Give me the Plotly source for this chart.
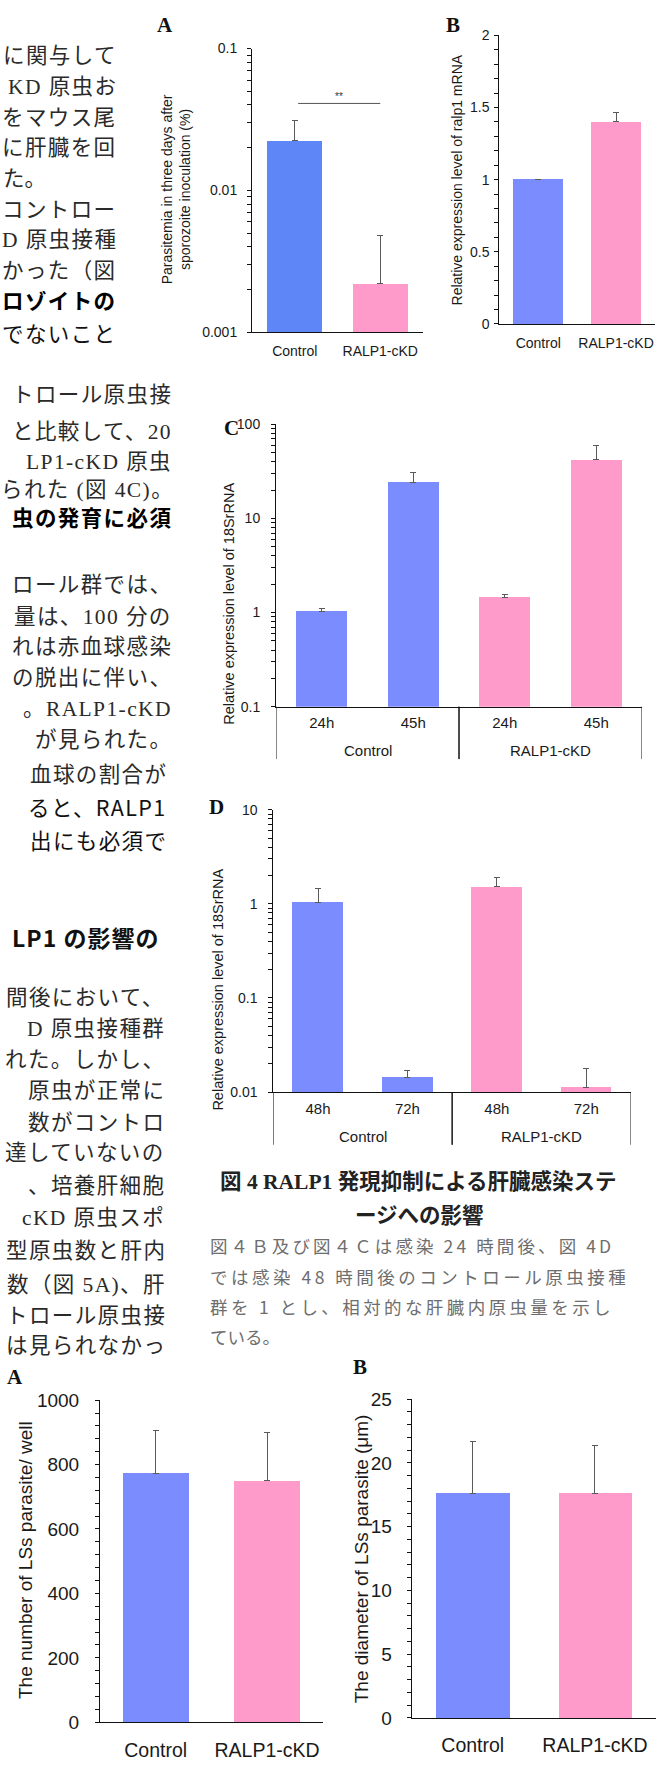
import plotly.graph_objects as go

W, H = 657, 1782


def fx(px):
    return px / W


def fy(py):
    return 1 - py / H


# ---------------- data ----------------
groups = ["Control", "RALP1-cKD"]

# Fig.4A parasitemia 3 days after sporozoite inoculation (%)
a_values = [0.0226, 0.00221]
a_err = [0.0085, 0.0026]
a_sig_level = 0.041
a_sig_text = "**"

# Fig.4B relative ralp1 mRNA
b_values = [1.0, 1.40]
b_err = [0.003, 0.068]

# Fig.4C relative 18S rRNA (24h / 45h)
c_strain = ["Control", "Control", "RALP1-cKD", "RALP1-cKD"]
c_time = ["24h", "45h", "24h", "45h"]
c_values = [1.02, 24.4, 1.46, 41.9]
c_err = [0.09, 6.4, 0.10, 17.7]

# Fig.4D relative 18S rRNA (48h / 72h)
d_strain = ["Control", "Control", "RALP1-cKD", "RALP1-cKD"]
d_time = ["48h", "72h", "48h", "72h"]
d_values = [1.045, 0.0144, 1.52, 0.0113]
d_err = [0.415, 0.0027, 0.39, 0.0064]

# Fig.5A number of LS parasites per well
e_values = [773, 750]
e_err = [133, 150]

# Fig.5B LS parasite diameter (um)
f_values = [17.6, 17.6]
f_err = [4.1, 3.75]

BLUE = "#7b8cff"
BLUE_A = "#5f86f6"
PINK = "#ff9bcb"
ERR = "#5a5a5a"
AX = "#111111"
TXT = "#1a1a1a"

SANS = "Liberation Sans, Arial, sans-serif"
SERIF_JP = "Liberation Serif, Noto Sans CJK JP, serif"
GOTHIC = "Noto Sans CJK JP, sans-serif"


def log_ticks(lo, hi):
    vals, text = [], []
    for e in range(lo, hi + 1):
        base = 10.0 ** e
        vals.append(base)
        text.append(f"{base:g}")
        if e < hi:
            for m in range(2, 10):
                vals.append(m * base)
                text.append("")
    return vals, text


def lin_ticks(top, minor, major):
    n = int(round(top / minor))
    vals = [round(i * minor, 6) for i in range(n + 1)]
    text = []
    for v in vals:
        if abs(v / major - round(v / major)) < 1e-6:
            text.append(f"{v:g}")
        else:
            text.append("")
    return vals, text


def yaxis(y_top, y_bot, tickvals, ticktext, size, standoff, log=False, rng=None):
    d = dict(
        domain=[fy(y_bot), fy(y_top)],
        showline=True, linecolor=AX, linewidth=1,
        ticks="outside", ticklen=4, tickwidth=1, tickcolor=AX,
        tickvals=tickvals, ticktext=ticktext,
        tickfont=dict(family=SANS, size=size, color=TXT),
        ticklabelstandoff=standoff,
        showgrid=False, zeroline=False, fixedrange=True,
        range=rng,
    )
    if log:
        d["type"] = "log"
    return d


def xaxis(x_left, x_right, size, standoff=0, ncat=2, tickvals=None, ticktext=None):
    d = dict(
        domain=[fx(x_left), fx(x_right)],
        type="category",
        showline=True, linecolor=AX, linewidth=1,
        ticks="", showgrid=False, zeroline=False, fixedrange=True,
        tickfont=dict(family=SANS, size=size, color=TXT),
        range=[-0.5, ncat - 0.5],
        ticklabelstandoff=standoff,
    )
    if tickvals is not None:
        d.update(tickmode="array", tickvals=tickvals, ticktext=ticktext)
    return d


fig = go.Figure()


def add_bars(x, y, err, colors, width, n):
    sfx = "" if n == 1 else str(n)
    fig.add_trace(go.Bar(
        x=x, y=y, width=width,
        marker=dict(color=colors, line=dict(width=0)),
        error_y=dict(type="data", symmetric=False, array=err,
                     arrayminus=[0] * len(y), color=ERR, thickness=1, width=3),
        xaxis="x" + sfx, yaxis="y" + sfx, hoverinfo="skip",
    ))


c_keys = [f"{s} {t}" for s, t in zip(c_strain, c_time)]
d_keys = [f"{s} {t}" for s, t in zip(d_strain, d_time)]

add_bars(groups, a_values, a_err, [BLUE_A, PINK], 0.64, 1)
add_bars(groups, b_values, b_err, [BLUE, PINK], 0.64, 2)
add_bars(c_keys, c_values, c_err, [BLUE, BLUE, PINK, PINK], 0.56, 3)
add_bars(d_keys, d_values, d_err, [BLUE, BLUE, PINK, PINK], 0.57, 4)
add_bars(groups, e_values, e_err, [BLUE, PINK], 0.59, 5)
add_bars(groups, f_values, f_err, [BLUE, PINK], 0.60, 6)

ta_v, ta_t = log_ticks(-3, -1)
tb_v, tb_t = lin_ticks(2.0, 0.1, 0.5)
tc_v, tc_t = log_ticks(-1, 2)
td_v, td_t = log_ticks(-2, 1)
te_v, te_t = lin_ticks(1000, 40, 200)
tf_v, tf_t = lin_ticks(25, 1, 5)

layout = dict(
    width=W, height=H,
    margin=dict(l=0, r=0, t=0, b=0),
    paper_bgcolor="white", plot_bgcolor="white",
    showlegend=False, bargap=0,
    font=dict(family=SANS, color=TXT),
)

axes = [
    (xaxis(252, 423, 14, standoff=6), yaxis(39, 326, ta_v, ta_t, 14, 7, True, [-3, -1])),
    (xaxis(499.3, 655, 14, standoff=6), yaxis(25.7, 317.7, tb_v, tb_t, 14, 2, False, [0, 2])),
    (xaxis(276, 642, 15, standoff=2, ncat=4, tickvals=c_keys, ticktext=c_time),
     yaxis(419.3, 705, tc_v, tc_t, 14, 8, True, [-1, 2])),
    (xaxis(273.3, 631, 15, standoff=3, ncat=4, tickvals=d_keys, ticktext=d_time),
     yaxis(809.3, 1095, td_v, td_t, 14, 8, True, [-2, 1])),
    (xaxis(100, 322.7, 19.5, standoff=10), yaxis(1406.7, 1732.7, te_v, te_t, 19, 12, False, [0, 1000])),
    (xaxis(411.7, 656, 19.5, standoff=10), yaxis(1405.7, 1728.3, tf_v, tf_t, 19, 11, False, [0, 25])),
]
for i, (xa, ya) in enumerate(axes, start=1):
    sfx = "" if i == 1 else str(i)
    xa["anchor"] = "y" + sfx
    ya["anchor"] = "x" + sfx
    layout["xaxis" + sfx] = xa
    layout["yaxis" + sfx] = ya

fig.update_layout(**layout)

ann = []
shapes = []


def spaced(s, px):
    if not px:
        return s
    return f'<span style="letter-spacing:{px}px">{s}</span>'


def text(x, y, s, size, family=SANS, color=TXT, xanchor="center", angle=0,
         bold=False, spacing=0):
    ann.append(dict(
        x=fx(x), y=fy(y), xref="paper", yref="paper", text=spaced(s, spacing),
        showarrow=False, xanchor=xanchor, yanchor="middle", textangle=angle,
        font=dict(family=family, size=size, color=color,
                  weight="bold" if bold else "normal"),
    ))


def group_axis(strains, axis_ref, axis_y, label_y, div_bottom, size=15):
    """Outer category labels and divider lines for a grouped x axis."""
    order = []
    for s in strains:
        if s not in order:
            order.append(s)
    for g in order:
        idx = [i for i, s in enumerate(strains) if s == g]
        lo, hi = idx[0] - 0.5, idx[-1] + 0.5
        ann.append(dict(x=(idx[0] + idx[-1]) / 2, y=fy(label_y), xref=axis_ref, yref="paper",
                        text=g, showarrow=False, yanchor="middle",
                        font=dict(family=SANS, size=size, color=TXT)))
        for xv in (lo, hi):
            shapes.append(dict(type="line", xref=axis_ref, yref="paper", x0=xv, x1=xv,
                               y0=fy(axis_y), y1=fy(div_bottom),
                               line=dict(color=AX, width=1)))


group_axis(c_strain, "x3", 705, 749.3, 758)
group_axis(d_strain, "x4", 1095, 1140, 1148.3)

# axis titles
text(175.5, 182, "Parasitemia in three days after<br>sporozoite inoculation (%)", 14, angle=-90)
text(457, 172.5, "Relative expression level of ralp1 mRNA", 14, angle=-90)
text(229.3, 600.5, "Relative expression level of 18SrRNA", 14.5, angle=-90)
text(218.3, 991, "Relative expression level of 18SrRNA", 14.5, angle=-90)
text(25, 1568.5, "The number of LSs parasite/ well", 19, angle=-90)
text(361.7, 1567, "The diameter of LSs parasite (μm)", 19, angle=-90)

# panel letters
for lx, ly, s in [(165, 15, "A"), (453, 15, "B"), (231.7, 423, "C"),
                  (216.7, 806, "D"), (15, 1383, "A"), (360, 1373, "B")]:
    text(lx, ly, s, 21, family="Liberation Serif, serif", color="#111", bold=True)

# significance bracket on panel A
shapes.append(dict(type="line", xref="x", yref="y", x0=0.04, x1=1.0,
                   y0=a_sig_level, y1=a_sig_level,
                   line=dict(color="#555", width=1)))
ann.append(dict(x=0.52, y=-1.39, xref="x", yref="y", text=a_sig_text, showarrow=False,
                yanchor="bottom", font=dict(family=SANS, size=10, color="#333")))

# figure caption
text(418, 1185, "図 4 RALP1 発現抑制による肝臓感染ステ", 21.5, family=SERIF_JP, color="#222", bold=True)
text(419, 1218, "ージへの影響", 21.5, family=GOTHIC, color="#222", bold=True)

legend_lines = [
    (1250, "図４Ｂ及び図４Ｃは感染 24 時間後、図 4D", 3.1),
    (1282, "では感染 48 時間後のコントロール原虫接種", 3.5),
    (1312, "群を 1 とし、相対的な肝臓内原虫量を示し", 3.4),
    (1342, "ている。", 0),
]
for ly, s, sp in legend_lines:
    text(208, ly, s, 17.5, family=GOTHIC, color="#6e6e6e", xanchor="left", spacing=sp)

# body text column
body = [
    # (y, text, right edge, style)
    (47, "に関与して", 119, "m"),
    (78, "KD 原虫お", 119, "m"),
    (109, "をマウス尾", 119, "m"),
    (140, "に肝臓を回", 119, "m"),
    (202, "コントロー", 119, "m"),
    (233, "D 原虫接種", 119, "m"),
    (264, "かった（図", 119, "m"),
    (295, "ロゾイトの", 119, "b"),
    (326, "でないこと", 119, "g"),
    (390, "トロール原虫接", 174, "m"),
    (427, "と比較して、20", 174, "m"),
    (457, "LP1-cKD 原虫", 174, "m"),
    (486, "られた (図 4C)。", 176, "m"),
    (515, "虫の発育に必須", 174, "b"),
    (582, "ロール群では、", 174, "m"),
    (614, "量は、100 分の", 174, "m"),
    (645, "れは赤血球感染", 174, "m"),
    (676, "の脱出に伴い、", 174, "m"),
    (707, "。RALP1-cKD", 174, "m"),
    (739, "が見られた。", 174, "m"),
    (774, "血球の割合が", 169, "m"),
    (806, "ると、RALP1", 169, "g"),
    (839, "出にも必須で", 169, "g"),
    (938, "LP1 の影響の", 161, "h"),
    (1000, "間後において、", 167, "m"),
    (1031, "D 原虫接種群", 167, "m"),
    (1063, "れた。しかし、", 167, "m"),
    (1094, "原虫が正常に", 167, "m"),
    (1126, "数がコントロ", 167, "m"),
    (1157, "達していないの", 167, "m"),
    (1190, "、培養肝細胞", 167, "m"),
    (1222, "cKD 原虫スポ", 167, "m"),
    (1256, "型原虫数と肝内", 168, "m"),
    (1290, "数（図 5A)、肝", 168, "m"),
    (1322, "トロール原虫接", 168, "m"),
    (1352, "は見られなかっ", 168, "m"),
]
styles = {
    "m": (SERIF_JP, "#2a2a2a", False, 21.5, 1.4),
    "b": (SERIF_JP, "#000", True, 21.5, 1.4),
    "g": (GOTHIC, "#111", False, 21.5, 1.4),
    "h": (GOTHIC, "#111", True, 23, 1.0),
}
for ly, s, rx, st in body:
    fam, col, bd, sz, sp = styles[st]
    text(rx, ly, s, sz, family=fam, color=col, xanchor="right", bold=bd, spacing=sp)
text(1, 171, "た。", 21.5, family=SERIF_JP, color="#2a2a2a", xanchor="left")

fig.update_layout(annotations=ann, shapes=shapes)
fig.write_html("out.html")
